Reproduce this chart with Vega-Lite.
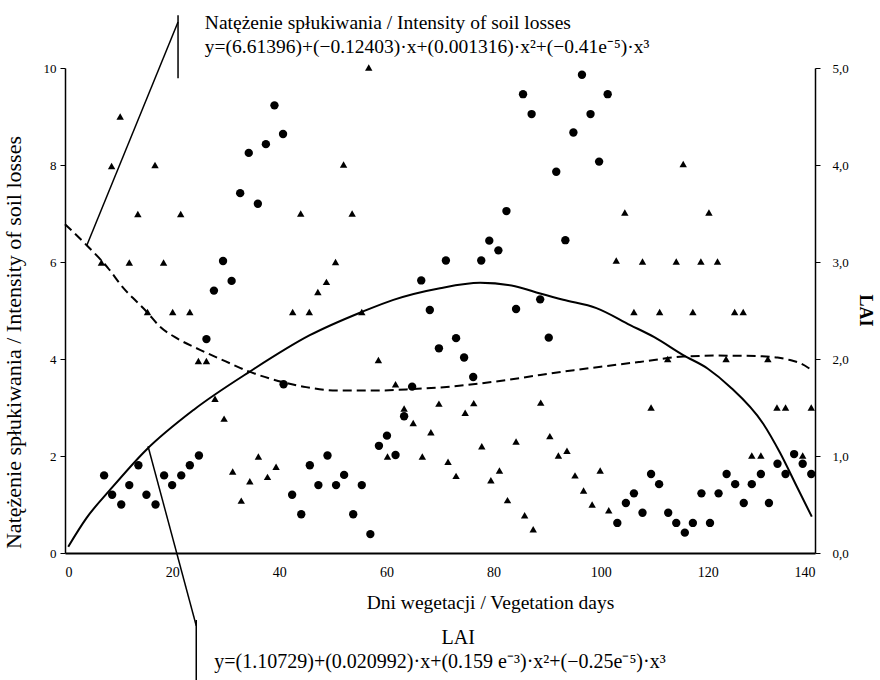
{
  "$schema": "https://vega.github.io/schema/vega-lite/v6.json",
  "width": 750,
  "height": 485,
  "autosize": {"type": "none"},
  "padding": {"left": 65, "top": 68, "right": 65, "bottom": 127},
  "background": "white",
  "config": {
    "view": {"stroke": null},
    "font": "Liberation Serif",
    "axis": {"grid": false, "domainColor": "black", "tickColor": "black", "labelColor": "black", "titleColor": "black", "labelFont": "Liberation Serif", "titleFont": "Liberation Serif", "titleFontWeight": "normal"}
  },
  "datasets": {
    "points": [
      {"x": 34.3, "y": 8.25, "s": "circle"}, {"x": 32.7, "y": 7.42, "s": "circle"}, {"x": 36.0, "y": 7.2, "s": "circle"},
      {"x": 29.5, "y": 6.02, "s": "circle"}, {"x": 31.1, "y": 5.61, "s": "circle"}, {"x": 27.8, "y": 5.41, "s": "circle"},
      {"x": 39.1, "y": 9.23, "s": "circle"}, {"x": 40.7, "y": 8.64, "s": "circle"}, {"x": 37.5, "y": 8.43, "s": "circle"},
      {"x": 71.1, "y": 6.03, "s": "circle"}, {"x": 66.5, "y": 5.62, "s": "circle"}, {"x": 96.5, "y": 9.86, "s": "circle"},
      {"x": 85.5, "y": 9.46, "s": "circle"}, {"x": 101.3, "y": 9.46, "s": "circle"}, {"x": 87.1, "y": 9.05, "s": "circle"},
      {"x": 98.1, "y": 9.05, "s": "circle"}, {"x": 94.9, "y": 8.67, "s": "circle"}, {"x": 99.7, "y": 8.07, "s": "circle"},
      {"x": 91.7, "y": 7.86, "s": "circle"}, {"x": 82.4, "y": 7.05, "s": "circle"}, {"x": 79.2, "y": 6.44, "s": "circle"},
      {"x": 80.9, "y": 6.24, "s": "circle"}, {"x": 93.4, "y": 6.45, "s": "circle"}, {"x": 77.7, "y": 6.03, "s": "circle"},
      {"x": 88.7, "y": 5.23, "s": "circle"}, {"x": 84.2, "y": 5.03, "s": "circle"},
      {"x": 69.8, "y": 4.22, "s": "circle"}, {"x": 73.0, "y": 4.43, "s": "circle"}, {"x": 74.5, "y": 4.03, "s": "circle"},
      {"x": 76.2, "y": 3.63, "s": "circle"}, {"x": 90.3, "y": 4.44, "s": "circle"}, {"x": 103.1, "y": 0.62, "s": "circle"},
      {"x": 104.7, "y": 1.03, "s": "circle"}, {"x": 106.2, "y": 1.23, "s": "circle"},
      {"x": 107.8, "y": 0.83, "s": "circle"}, {"x": 109.4, "y": 1.63, "s": "circle"}, {"x": 110.9, "y": 1.42, "s": "circle"},
      {"x": 112.6, "y": 0.83, "s": "circle"}, {"x": 114.1, "y": 0.62, "s": "circle"}, {"x": 115.7, "y": 0.42, "s": "circle"},
      {"x": 117.2, "y": 0.62, "s": "circle"}, {"x": 118.8, "y": 1.23, "s": "circle"}, {"x": 120.4, "y": 0.62, "s": "circle"},
      {"x": 122.0, "y": 1.23, "s": "circle"}, {"x": 123.5, "y": 1.63, "s": "circle"}, {"x": 125.1, "y": 1.42, "s": "circle"},
      {"x": 126.7, "y": 1.03, "s": "circle"}, {"x": 128.2, "y": 1.42, "s": "circle"}, {"x": 129.9, "y": 1.63, "s": "circle"},
      {"x": 131.4, "y": 1.03, "s": "circle"}, {"x": 133.0, "y": 1.84, "s": "circle"}, {"x": 134.5, "y": 1.63, "s": "circle"},
      {"x": 136.1, "y": 2.04, "s": "circle"}, {"x": 137.7, "y": 1.84, "s": "circle"}, {"x": 139.3, "y": 1.63, "s": "circle"},
      {"x": 26.4, "y": 4.41, "s": "circle"}, {"x": 25.0, "y": 2.01, "s": "circle"}, {"x": 23.3, "y": 1.81, "s": "circle"},
      {"x": 21.7, "y": 1.6, "s": "circle"}, {"x": 18.5, "y": 1.6, "s": "circle"}, {"x": 20.0, "y": 1.4, "s": "circle"},
      {"x": 13.7, "y": 1.81, "s": "circle"}, {"x": 7.3, "y": 1.6, "s": "circle"}, {"x": 12.0, "y": 1.4, "s": "circle"},
      {"x": 8.8, "y": 1.2, "s": "circle"}, {"x": 15.2, "y": 1.2, "s": "circle"}, {"x": 10.5, "y": 1.0, "s": "circle"},
      {"x": 16.9, "y": 1.0, "s": "circle"},
      {"x": 68.1, "y": 5.01, "s": "circle"}, {"x": 40.8, "y": 3.48, "s": "circle"}, {"x": 64.8, "y": 3.43, "s": "circle"},
      {"x": 63.3, "y": 2.82, "s": "circle"}, {"x": 60.1, "y": 2.42, "s": "circle"}, {"x": 58.6, "y": 2.21, "s": "circle"},
      {"x": 61.7, "y": 2.02, "s": "circle"}, {"x": 49.0, "y": 2.01, "s": "circle"}, {"x": 45.7, "y": 1.81, "s": "circle"},
      {"x": 52.1, "y": 1.61, "s": "circle"}, {"x": 47.3, "y": 1.4, "s": "circle"}, {"x": 50.6, "y": 1.4, "s": "circle"},
      {"x": 55.4, "y": 1.4, "s": "circle"}, {"x": 42.4, "y": 1.2, "s": "circle"}, {"x": 44.1, "y": 0.8, "s": "circle"},
      {"x": 53.8, "y": 0.8, "s": "circle"}, {"x": 57.0, "y": 0.39, "s": "circle"},
      {"x": 10.3, "y": 9.0, "s": "triangle"}, {"x": 8.7, "y": 7.98, "s": "triangle"}, {"x": 16.8, "y": 8.0, "s": "triangle"},
      {"x": 13.6, "y": 6.99, "s": "triangle"}, {"x": 21.6, "y": 6.99, "s": "triangle"}, {"x": 6.8, "y": 5.99, "s": "triangle"},
      {"x": 12.0, "y": 5.99, "s": "triangle"}, {"x": 18.4, "y": 5.99, "s": "triangle"},
      {"x": 56.7, "y": 10.01, "s": "triangle"}, {"x": 52.0, "y": 8.01, "s": "triangle"}, {"x": 44.0, "y": 7.0, "s": "triangle"},
      {"x": 53.6, "y": 7.0, "s": "triangle"}, {"x": 50.5, "y": 6.0, "s": "triangle"}, {"x": 48.8, "y": 5.59, "s": "triangle"},
      {"x": 47.2, "y": 5.38, "s": "triangle"}, {"x": 42.5, "y": 4.97, "s": "triangle"}, {"x": 45.6, "y": 4.97, "s": "triangle"},
      {"x": 15.4, "y": 4.97, "s": "triangle"}, {"x": 20.1, "y": 4.97, "s": "triangle"}, {"x": 23.3, "y": 4.97, "s": "triangle"},
      {"x": 55.4, "y": 4.97, "s": "triangle"},
      {"x": 104.5, "y": 7.02, "s": "triangle"}, {"x": 102.9, "y": 6.03, "s": "triangle"}, {"x": 115.4, "y": 8.02, "s": "triangle"},
      {"x": 120.2, "y": 7.02, "s": "triangle"}, {"x": 107.8, "y": 6.01, "s": "triangle"}, {"x": 114.1, "y": 6.01, "s": "triangle"},
      {"x": 118.7, "y": 6.01, "s": "triangle"}, {"x": 121.8, "y": 6.01, "s": "triangle"}, {"x": 106.2, "y": 4.97, "s": "triangle"},
      {"x": 111.0, "y": 4.97, "s": "triangle"}, {"x": 117.2, "y": 4.97, "s": "triangle"}, {"x": 125.0, "y": 4.97, "s": "triangle"},
      {"x": 126.6, "y": 4.97, "s": "triangle"},
      {"x": 69.8, "y": 3.08, "s": "triangle"}, {"x": 76.3, "y": 3.09, "s": "triangle"}, {"x": 74.7, "y": 2.89, "s": "triangle"},
      {"x": 88.8, "y": 3.1, "s": "triangle"}, {"x": 77.8, "y": 2.2, "s": "triangle"}, {"x": 84.2, "y": 2.3, "s": "triangle"},
      {"x": 90.5, "y": 2.41, "s": "triangle"}, {"x": 93.7, "y": 2.11, "s": "triangle"}, {"x": 92.1, "y": 2.01, "s": "triangle"},
      {"x": 71.5, "y": 1.88, "s": "triangle"}, {"x": 73.0, "y": 1.59, "s": "triangle"}, {"x": 81.1, "y": 1.7, "s": "triangle"},
      {"x": 79.5, "y": 1.5, "s": "triangle"}, {"x": 82.6, "y": 1.09, "s": "triangle"}, {"x": 85.8, "y": 0.78, "s": "triangle"},
      {"x": 87.4, "y": 0.49, "s": "triangle"}, {"x": 95.2, "y": 1.6, "s": "triangle"}, {"x": 99.9, "y": 1.7, "s": "triangle"},
      {"x": 96.8, "y": 1.29, "s": "triangle"}, {"x": 98.4, "y": 1.0, "s": "triangle"}, {"x": 101.5, "y": 0.88, "s": "triangle"},
      {"x": 112.5, "y": 4.0, "s": "triangle"}, {"x": 123.4, "y": 4.0, "s": "triangle"}, {"x": 131.2, "y": 4.0, "s": "triangle"},
      {"x": 109.4, "y": 3.0, "s": "triangle"}, {"x": 132.9, "y": 3.0, "s": "triangle"}, {"x": 134.5, "y": 3.0, "s": "triangle"},
      {"x": 139.3, "y": 3.0, "s": "triangle"}, {"x": 128.2, "y": 2.01, "s": "triangle"}, {"x": 129.9, "y": 2.01, "s": "triangle"},
      {"x": 137.7, "y": 2.01, "s": "triangle"},
      {"x": 24.9, "y": 3.96, "s": "triangle"}, {"x": 26.4, "y": 3.96, "s": "triangle"}, {"x": 28.0, "y": 3.18, "s": "triangle"},
      {"x": 29.7, "y": 2.77, "s": "triangle"}, {"x": 36.1, "y": 1.99, "s": "triangle"}, {"x": 31.3, "y": 1.68, "s": "triangle"},
      {"x": 34.5, "y": 1.48, "s": "triangle"}, {"x": 32.9, "y": 1.08, "s": "triangle"},
      {"x": 58.5, "y": 3.98, "s": "triangle"}, {"x": 61.7, "y": 3.48, "s": "triangle"}, {"x": 63.3, "y": 2.98, "s": "triangle"},
      {"x": 65.0, "y": 2.68, "s": "triangle"}, {"x": 68.3, "y": 2.49, "s": "triangle"}, {"x": 60.2, "y": 1.99, "s": "triangle"},
      {"x": 66.7, "y": 1.99, "s": "triangle"}, {"x": 39.4, "y": 1.78, "s": "triangle"}, {"x": 37.8, "y": 1.57, "s": "triangle"}
    ],
    "dashed": [
      {"x": 0, "y": 6.78}, {"x": 4, "y": 6.35}, {"x": 8, "y": 5.88}, {"x": 11, "y": 5.45}, {"x": 13.4, "y": 5.18},
      {"x": 15.2, "y": 4.98}, {"x": 17.7, "y": 4.67}, {"x": 21, "y": 4.42}, {"x": 25.2, "y": 4.19}, {"x": 30, "y": 3.95},
      {"x": 33.9, "y": 3.76}, {"x": 40.8, "y": 3.52}, {"x": 45, "y": 3.42}, {"x": 50.7, "y": 3.35}, {"x": 58.2, "y": 3.35},
      {"x": 65, "y": 3.38}, {"x": 71.9, "y": 3.43}, {"x": 80, "y": 3.53}, {"x": 88.7, "y": 3.67}, {"x": 95, "y": 3.77},
      {"x": 100, "y": 3.84}, {"x": 107.3, "y": 3.94}, {"x": 115.4, "y": 4.05}, {"x": 122, "y": 4.07}, {"x": 129.1, "y": 4.06},
      {"x": 133, "y": 4.03}, {"x": 135.3, "y": 3.98}, {"x": 137.5, "y": 3.9}, {"x": 139.4, "y": 3.77}
    ],
    "lai": [
      {"x": 0.6, "lai": 0.065}, {"x": 4, "lai": 0.36}, {"x": 8.4, "lai": 0.65}, {"x": 15.1, "lai": 1.06}, {"x": 24, "lai": 1.475},
      {"x": 34.5, "lai": 1.87}, {"x": 45.7, "lai": 2.245}, {"x": 55.4, "lai": 2.485}, {"x": 61.3, "lai": 2.61}, {"x": 70, "lai": 2.73},
      {"x": 77.5, "lai": 2.785}, {"x": 84, "lai": 2.75}, {"x": 88.7, "lai": 2.675}, {"x": 93, "lai": 2.61}, {"x": 99.2, "lai": 2.525},
      {"x": 105.5, "lai": 2.35}, {"x": 110, "lai": 2.225}, {"x": 115.4, "lai": 2.04}, {"x": 120, "lai": 1.9}, {"x": 124.1, "lai": 1.715},
      {"x": 130.3, "lai": 1.335}, {"x": 133.5, "lai": 1.03}, {"x": 136.6, "lai": 0.685}, {"x": 139.4, "lai": 0.375}
    ],
    "pointers": [
      {"x1": 21.1, "y1": 11.09, "x2": 21.1, "y2": 9.79},
      {"x1": 21.1, "y1": 10.95, "x2": 4.1, "y2": 6.35},
      {"x1": 15.5, "y1": 2.2, "x2": 24.5, "y2": -1.5},
      {"x1": 24.5, "y1": -1.38, "x2": 24.5, "y2": -2.7}
    ],
    "topLabels": [
      {"x": 26.1, "y": 10.92, "t": "Natężenie spłukiwania / Intensity of soil losses"},
      {"x": 26.1, "y": 10.43, "t": "y=(6.61396)+(−0.12403)·x+(0.001316)·x²+(−0.41e⁻⁵)·x³"}
    ],
    "bottomLabels": [
      {"x": 73.4, "y": -1.75, "t": "LAI"},
      {"x": 70, "y": -2.24, "t": "y=(1.10729)+(0.020992)·x+(0.159 e⁻³)·x²+(−0.25e⁻⁵)·x³"}
    ]
  },
  "layer": [
    {
      "layer": [
        {
          "data": {"name": "points"},
          "mark": {"type": "point", "filled": true, "opacity": 1, "color": "black", "clip": false},
          "encoding": {
            "x": {"field": "x", "type": "quantitative", "scale": {"domain": [0, 140], "nice": false},
              "axis": {"values": [0, 20, 40, 60, 80, 100, 120, 140], "ticks": false, "domainWidth": 2, "labelFontSize": 14, "labelPadding": 12,
                "title": "Dni wegetacji / Vegetation days", "titleFontSize": 19.5, "titleX": 425, "titleY": 40}},
            "y": {"field": "y", "type": "quantitative", "scale": {"domain": [0, 10], "nice": false},
              "axis": {"values": [0, 2, 4, 6, 8, 10], "tickSize": 5, "domainWidth": 1.5, "labelFontSize": 13, "labelPadding": 4,
                "title": "Natężenie spłukiwania / Intensity of soil losses", "titleFontSize": 22, "titleX": -40, "titleY": 274}},
            "shape": {"field": "s", "type": "nominal", "scale": {"domain": ["circle", "triangle"], "range": ["circle", "triangle-up"]}, "legend": null},
            "size": {"field": "s", "type": "nominal", "scale": {"domain": ["circle", "triangle"], "range": [70, 55]}, "legend": null}
          }
        },
        {
          "data": {"name": "dashed"},
          "mark": {"type": "line", "color": "black", "strokeWidth": 2, "strokeDash": [9, 5], "interpolate": "monotone"},
          "encoding": {
            "x": {"field": "x", "type": "quantitative"},
            "y": {"field": "y", "type": "quantitative"}
          }
        },
        {
          "data": {"name": "pointers"},
          "mark": {"type": "rule", "color": "black", "strokeWidth": 1.5, "clip": false},
          "encoding": {
            "x": {"field": "x1", "type": "quantitative"}, "x2": {"field": "x2"},
            "y": {"field": "y1", "type": "quantitative"}, "y2": {"field": "y2"}
          }
        },
        {
          "data": {"name": "topLabels"},
          "mark": {"type": "text", "align": "left", "baseline": "middle", "fontSize": 19.5, "font": "Liberation Serif", "color": "black", "clip": false},
          "encoding": {
            "x": {"field": "x", "type": "quantitative"},
            "y": {"field": "y", "type": "quantitative"},
            "text": {"field": "t"}
          }
        },
        {
          "data": {"name": "bottomLabels"},
          "mark": {"type": "text", "align": "center", "baseline": "middle", "fontSize": 20, "font": "Liberation Serif", "color": "black", "clip": false},
          "encoding": {
            "x": {"field": "x", "type": "quantitative"},
            "y": {"field": "y", "type": "quantitative"},
            "text": {"field": "t"}
          }
        }
      ]
    },
    {
      "data": {"name": "lai"},
      "mark": {"type": "line", "color": "black", "strokeWidth": 2, "interpolate": "monotone"},
      "encoding": {
        "x": {"field": "x", "type": "quantitative"},
        "y": {"field": "lai", "type": "quantitative", "scale": {"domain": [0, 5], "nice": false},
          "axis": {"orient": "right", "values": [0, 1, 2, 3, 4, 5], "tickSize": 5, "domainWidth": 1.5, "labelFontSize": 13, "labelPadding": 12,
            "labelExpr": "replace(format(datum.value, '.1f'), '.', ',')",
            "title": "LAI", "titleFontSize": 18, "titleFontWeight": "bold", "titleX": 40, "titleY": 242}}
      }
    }
  ],
  "resolve": {"scale": {"y": "independent"}}
}
